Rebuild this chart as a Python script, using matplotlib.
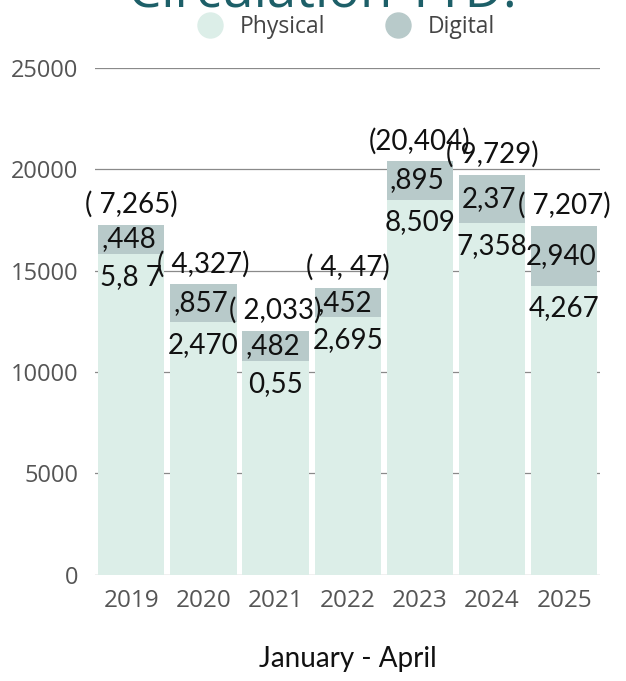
import matplotlib
matplotlib.use("Agg")
import matplotlib.pyplot as plt
from matplotlib.lines import Line2D

# ---- data ----
years = ["2019", "2020", "2021", "2022", "2023", "2024", "2025"]
physical = [15817, 12470, 10551, 12695, 18509, 17358, 14267]
digital = [1448, 1857, 1482, 1452, 1895, 2371, 2940]
# labels as displayed in the reference (glyph "1" missing in the original font)
physical_labels = ["5,8 7", "2,470", "0,55", "2,695", "8,509", "7,358", "4,267"]
digital_labels = [",448", ",857", ",482", ",452", ",895", "2,37", "2,940"]
total_labels = ["( 7,265)", "( 4,327)", "( 2,033)", "( 4, 47)", "(20,404)", "( 9,729)", "( 7,207)"]
yticks = [0, 5000, 10000, 15000, 20000, 25000]

c_phys = "#DCEEE8"
c_dig = "#B8CACA"
tick_color = "#555555"
label_font = "Lato"
tick_font = "Open Sans"

fig = plt.figure(figsize=(6.26, 6.81), dpi=100)
ax = fig.add_axes([0.152, 0.156, 0.807, 0.744])

x = list(range(len(years)))
width = 0.92
ax.bar(x, physical, width=width, color=c_phys, zorder=2)
ax.bar(x, digital, width=width, bottom=physical, color=c_dig, zorder=2)

ax.set_xlim(-0.5, len(years) - 0.5)
ax.set_ylim(0, 25000)
ax.set_yticks(yticks)
ax.set_yticklabels([str(v) for v in yticks], fontsize=17, color=tick_color, family=tick_font)
ax.set_xticks(x)
ax.set_xticklabels(years, fontsize=17.5, color=tick_color, family=tick_font)
ax.tick_params(axis="both", length=0)
ax.tick_params(axis="y", pad=12)
ax.tick_params(axis="x", pad=10)
ax.grid(axis="y", color="#8a8a8a", linewidth=0.9)
ax.set_axisbelow(True)
for s in ax.spines.values():
    s.set_visible(False)

for i in x:
    top = physical[i] + digital[i]
    ax.annotate(total_labels[i], (i, top), xytext=(0, 5), textcoords="offset points",
                ha="center", va="bottom", fontsize=20, family=label_font, color="#111111")
    ax.annotate(digital_labels[i], (i, physical[i] + digital[i] / 2), xytext=(-2, 0),
                textcoords="offset points", ha="center", va="center",
                fontsize=20, family=label_font, color="#111111")
    ax.annotate(physical_labels[i], (i, physical[i]), xytext=(0, -7),
                textcoords="offset points", ha="center", va="top",
                fontsize=20, family=label_font, color="#111111")

ax.set_xlabel("January - April", fontsize=20, family=label_font, color="#111111", labelpad=24)

# title (partly cut off at top in the reference)
fig.text(0.515, 1 - 8 / 681, "Circulation YTD:", ha="center", va="baseline",
         fontsize=38, color="#1D5F68", family=tick_font)

handles = [Line2D([], [], marker="o", linestyle="", markersize=18, color=c_phys),
           Line2D([], [], marker="o", linestyle="", markersize=18, color=c_dig)]
fig.legend(handles, ["Physical", "Digital"], loc="center", bbox_to_anchor=(0.545, 0.961),
           ncol=2, frameon=False, prop={"family": tick_font, "size": 16.5},
           labelcolor="#444444", handletextpad=0.3, columnspacing=2.2)

fig.savefig("out.png", dpi=100)
